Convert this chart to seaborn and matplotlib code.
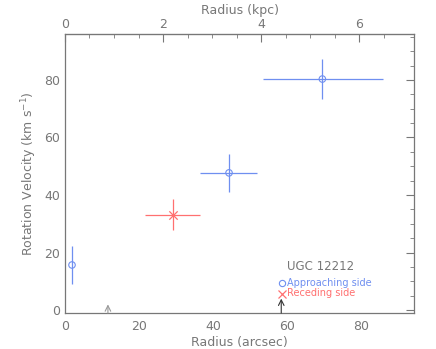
import numpy as np
import pandas as pd
import matplotlib
matplotlib.use("Agg")
import matplotlib.pyplot as plt
import seaborn as sns
from matplotlib.ticker import MultipleLocator, FixedLocator

# rotation curve points (arcsec, km/s)
radius = [1.9, 29.2, 44.3, 69.5]
velocity = [15.7, 33.2, 47.7, 80.3]
r_lo = [0.0, 7.6, 7.8, 16.0]
r_hi = [0.0, 7.3, 7.6, 16.4]
v_err = [6.6, 5.5, 6.6, 6.8]
side = ["Approaching side", "Receding side", "Approaching side", "Approaching side"]

arrow_x = [11.6, 58.4]
arrow_len = [3.0, 5.0]
arrow_col = ["#999999", "#333333"]

kpc_ticks = [0, 2, 4, 6]
kpc_minor = [0.5 * k for k in range(14)]
arcsec_per_kpc = 13.24

df = pd.DataFrame({"radius": radius, "velocity": velocity, "side": side})

sns.set_style("white")
plt.rcParams["font.family"] = ["DejaVu Sans"]
grey = "#777777"
blue = "#6f8ff0"
red = "#ff7070"
pal = {"Approaching side": blue, "Receding side": red}

fig = plt.figure(figsize=(4.36, 3.49), dpi=100)
ax = fig.add_axes([0.149, 0.103, 0.801, 0.800])

for i in range(len(radius)):
    c = pal[side[i]]
    ax.errorbar(radius[i], velocity[i], xerr=[[r_lo[i]], [r_hi[i]]],
                yerr=v_err[i], fmt="none", ecolor=c, elinewidth=0.9, capsize=0)

app = df[df["side"] == "Approaching side"]
rec = df[df["side"] == "Receding side"]
sns.scatterplot(data=app, x="radius", y="velocity", marker="o", s=22,
                facecolor="none", edgecolor=blue, linewidth=0.8,
                legend=False, ax=ax)
sns.scatterplot(data=rec, x="radius", y="velocity", marker="x", s=36,
                color=red, linewidth=0.9, legend=False, ax=ax)

for x, l, c in zip(arrow_x, arrow_len, arrow_col):
    ax.annotate("", xy=(x, -1 + l), xytext=(x, -1),
                arrowprops=dict(arrowstyle="->", color=c, lw=0.8,
                                shrinkA=0, shrinkB=0))

ax.set_xlim(0, 94.3)
ax.set_ylim(-1, 96)
ax.xaxis.set_major_locator(MultipleLocator(20))
ax.xaxis.set_minor_locator(MultipleLocator(5))
ax.yaxis.set_major_locator(MultipleLocator(20))
ax.yaxis.set_minor_locator(MultipleLocator(5))
ax.tick_params(which="both", direction="in", color=grey, labelcolor=grey,
               labelsize=9, top=False, right=True)
ax.tick_params(which="major", length=6)
ax.tick_params(which="minor", length=3)
ax.tick_params(axis="x", pad=5)
for sp in ax.spines.values():
    sp.set_color(grey)
    sp.set_linewidth(0.9)
ax.set_xlabel("Radius (arcsec)", color=grey, fontsize=9, labelpad=2)
ax.set_ylabel("Rotation Velocity (km s$^{-1}$)", color=grey, fontsize=9, labelpad=4)

sec = ax.secondary_xaxis("top", functions=(lambda a: a / arcsec_per_kpc,
                                           lambda k: k * arcsec_per_kpc))
sec.xaxis.set_major_locator(FixedLocator(kpc_ticks))
sec.xaxis.set_minor_locator(FixedLocator(kpc_minor))
sec.tick_params(which="both", direction="in", color=grey, labelcolor=grey,
                labelsize=9, pad=2)
sec.tick_params(which="major", length=6)
sec.tick_params(which="minor", length=3)
sec.spines["top"].set_color(grey)
sec.set_xlabel("Radius (kpc)", color=grey, fontsize=9, labelpad=3)

ax.text(60.0, 12.8, "UGC 12212", color=grey, fontsize=8.5, va="bottom")
ax.plot([58.5], [9.6], "o", mfc="none", mec=blue, ms=4.5, mew=0.8)
ax.text(60.0, 9.6, "Approaching side", color=blue, fontsize=7, va="center")
ax.plot([58.5], [5.6], "x", color=red, ms=6, mew=0.9)
ax.text(60.0, 5.8, "Receding side", color=red, fontsize=7, va="center")

fig.savefig("out.png", dpi=100)
